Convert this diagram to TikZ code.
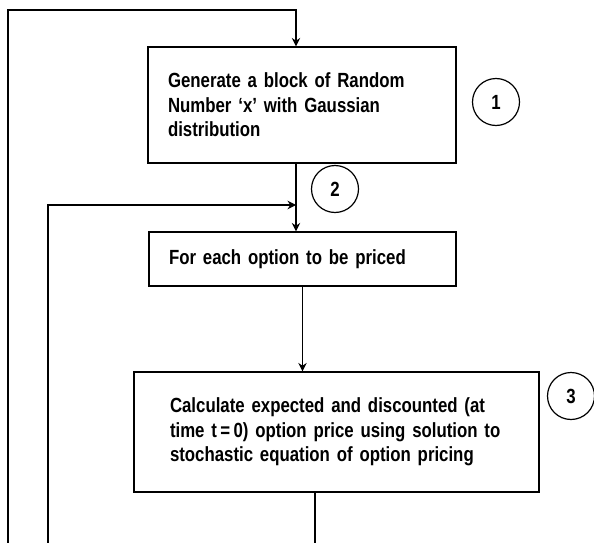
\documentclass[tikz,border=0pt]{standalone}
\usepackage{fontspec}
\setmainfont{Liberation Sans}[FakeStretch=0.82]
\usepackage{tikz}
\usetikzlibrary{arrows.meta}
\usetikzlibrary{calc}

\begin{document}
\begin{tikzpicture}[x=1pt, y=-1pt, >={Stealth[length=8.5pt,width=8.5pt]}, line width=1.2pt,
  stepbox/.style={draw, align=left, inner xsep=20pt, anchor=center,
    font=\fontsize{20.5}{24.5}\selectfont\bfseries},
  numcirc/.style={draw, circle, minimum size=47pt, inner sep=0pt,
    font=\fontsize{20.5}{22}\selectfont\bfseries},]
\useasboundingbox (0,0) rectangle (594,543);
\node[stepbox, minimum width=308pt, minimum height=116pt, text width=268pt] (b1) at (302, 105)
  {Generate a block of Random\\Number `x' with Gaussian\\distribution};
\node[stepbox, minimum width=307pt, minimum height=54pt, text width=267pt] (b2) at (302.5, 259)
  {For each option to be priced};
\node[stepbox, minimum width=405pt, minimum height=120pt, text width=333pt, inner xsep=36pt] (b3) at (336.5, 432)
  {Calculate expected and discounted (at\\time t\,=\,0) option price using solution to\\stochastic equation of option pricing};
\node[numcirc] (c1) at (496, 102) {1};
\node[numcirc] (c2) at (335, 189) {2};
\node[numcirc] (c3) at (571, 396) {3};
\coordinate (o1) at (8, 543);
\coordinate (o2) at (48, 543);
\coordinate (t) at (296, 10);
\coordinate (j) at (296, 205);
\coordinate (e) at (315, 543);
 \draw [->] (o1) |- (t) -- (t |- b1.north);
 \draw [->] (t |- b1.south) -- (t |- b2.north);
 \draw [->] (o2) |- (j);
 \draw [->] (b2.south) -- (b2.south |- b3.north);
 \draw (e |- b3.south) -- (e);
\end{tikzpicture}
\end{document}
